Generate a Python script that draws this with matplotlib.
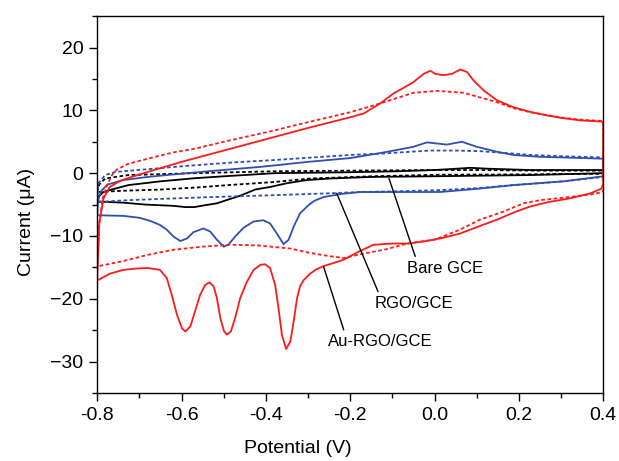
import matplotlib
matplotlib.use("Agg")
import matplotlib.pyplot as plt
from matplotlib.ticker import MultipleLocator, FormatStrFormatter

# Au-RGO/GCE, solid (forward scan then reverse scan)
au_x = [-0.80, -0.795, -0.785, -0.77, -0.745, -0.714, -0.66, -0.60, -0.50, -0.40, -0.30, -0.20, -0.168,
        -0.129, -0.097, -0.073, -0.05, -0.026, -0.010, 0.002, 0.021, 0.041, 0.061, 0.077, 0.092, 0.116,
        0.148, 0.187, 0.23, 0.266, 0.30, 0.345, 0.40,
        0.40, 0.395, 0.37, 0.322, 0.27, 0.227, 0.19, 0.148, 0.10, 0.061, 0.02, -0.02, -0.058, -0.10,
        -0.145, -0.18, -0.216, -0.263, -0.28, -0.295, -0.31, -0.319, -0.326, -0.334, -0.342, -0.352,
        -0.362, -0.370, -0.378, -0.390, -0.402, -0.413, -0.429, -0.445, -0.461, -0.473, -0.483, -0.492,
        -0.499, -0.508, -0.516, -0.524, -0.534, -0.544, -0.556, -0.568, -0.579, -0.591, -0.599, -0.611,
        -0.623, -0.635, -0.651, -0.68, -0.71, -0.738, -0.77, -0.797, -0.80]
au_y = [-17.0, -8.0, -4.0, -2.2, -1.2, -0.5, 0.6, 1.8, 3.6, 5.4, 7.2, 8.9, 9.5,
        11.1, 12.7, 13.6, 14.5, 15.8, 16.3, 15.8, 15.6, 15.8, 16.5, 16.1, 14.8, 13.2,
        11.6, 10.5, 9.7, 9.2, 8.8, 8.4, 8.2,
        -1.8, -2.5, -3.2, -4.0, -4.6, -5.3, -6.2, -7.4, -8.6, -9.6, -10.3, -10.8, -11.2, -11.2,
        -11.4, -12.5, -13.8, -14.8, -15.3, -16.0, -17.0, -18.0, -19.9, -23.6, -26.8, -28.0,
        -25.7, -21.5, -17.8, -15.1, -14.5, -14.6, -15.4, -17.3, -19.9, -23.1, -25.2, -25.7,
        -25.2, -23.1, -19.9, -18.0, -17.4, -17.8, -19.4, -22.0, -24.4, -25.2, -24.7, -22.5,
        -19.4, -16.7, -15.4, -15.1, -15.2, -15.4, -16.0, -17.0, -17.0]

# Au-RGO/GCE, dotted
au_dot_x = [-0.80, -0.795, -0.787, -0.777, -0.765, -0.753, -0.726, -0.68, -0.62, -0.568, -0.50, -0.44,
            -0.38, -0.32, -0.263, -0.20, -0.129, -0.05, 0.006, 0.069, 0.148, 0.19, 0.227,
            0.27, 0.306, 0.35, 0.40,
            0.40, 0.37, 0.306, 0.25, 0.211, 0.16, 0.108, 0.06, 0.0, -0.058, -0.12, -0.168, -0.216, -0.25,
            -0.295, -0.342, -0.42, -0.485, -0.55, -0.619, -0.68, -0.738, -0.797]
au_dot_y = [-14.8, -8.0, -4.0, -2.0, -0.3, 0.6, 1.5, 2.3, 3.3, 3.9, 5.0, 5.9,
            6.8, 7.8, 8.7, 9.7, 11.1, 12.8, 13.1, 12.8, 11.3, 10.3, 9.7,
            9.2, 8.8, 8.5, 8.3,
            -3.0, -3.4, -3.9, -4.3, -4.8, -6.2, -7.4, -9.0, -10.6, -11.1, -12.2, -12.8, -13.5, -13.2,
            -12.7, -12.0, -11.5, -11.4, -11.7, -12.2, -13.0, -14.0, -14.8]

# RGO/GCE, solid
rgo_x = [-0.80, -0.798, -0.79, -0.775, -0.738, -0.68, -0.619, -0.52, -0.413, -0.30, -0.20, -0.129,
         -0.081, -0.05, -0.018, 0.029, 0.065, 0.100, 0.148, 0.187, 0.25, 0.306, 0.40,
         0.40, 0.306, 0.187, 0.10, 0.013, -0.10, -0.176, -0.22, -0.263, -0.285, -0.299, -0.319, -0.334,
         -0.346, -0.358, -0.374, -0.390, -0.406, -0.429, -0.453, -0.473, -0.489, -0.50, -0.516,
         -0.532, -0.548, -0.572, -0.587, -0.603, -0.619, -0.635, -0.651, -0.674, -0.70,
         -0.738, -0.80]
rgo_y = [-6.7, -4.3, -2.8, -1.8, -1.1, -0.6, -0.2, 0.4, 1.0, 1.8, 2.4, 3.2,
         3.8, 4.2, 4.9, 4.55, 5.0, 4.2, 3.4, 2.9, 2.6, 2.5, 2.3,
         -0.5, -1.3, -1.9, -2.5, -3.0, -3.0, -3.0, -3.3, -3.8, -4.4, -5.1, -6.4, -8.5,
         -10.6, -11.3, -9.6, -8.0, -7.5, -7.7, -8.7, -10.1, -11.4, -11.7, -10.6,
         -9.3, -8.8, -9.4, -10.4, -10.8, -10.1, -9.0, -8.25, -7.6, -7.1,
         -6.8, -6.7]

# RGO/GCE, dotted
rgo_dot_x = [-0.80, -0.797, -0.781, -0.757, -0.686, -0.58, -0.48, -0.378, -0.20, -0.129, -0.06, -0.01,
             0.05, 0.108, 0.17, 0.227, 0.30, 0.40,
             0.40, 0.306, 0.187, 0.10, 0.013, -0.10, -0.176, -0.247, -0.378, -0.48, -0.568, -0.65,
             -0.726, -0.777, -0.80]
rgo_dot_y = [-4.6, -1.6, -0.3, 0.2, 0.6, 1.2, 1.7, 2.1, 2.9, 3.1, 3.4, 3.6,
             3.6, 3.5, 3.2, 2.9, 2.7, 2.5,
             -0.6, -1.3, -1.9, -2.4, -2.7, -2.9, -3.0, -3.2, -3.5, -3.7, -3.9, -4.1,
             -4.3, -4.5, -4.6]

# Bare GCE, solid
bare_x = [-0.80, -0.795, -0.785, -0.765, -0.726, -0.65, -0.568, -0.50, -0.378, -0.20, -0.089, 0.0,
          0.05, 0.085, 0.13, 0.227, 0.40,
          0.40, 0.227, -0.01, -0.15, -0.247, -0.303, -0.35, -0.39, -0.425, -0.461, -0.489, -0.516,
          -0.544, -0.57, -0.591, -0.62, -0.686, -0.738, -0.80]
bare_y = [-4.5, -3.6, -3.0, -2.6, -1.9, -1.3, -0.8, -0.5, 0.0, 0.15, 0.3, 0.5,
          0.7, 0.85, 0.7, 0.5, 0.5,
          0.0, -0.3, -0.5, -0.6, -0.85, -1.1, -1.6, -2.2, -2.6, -3.6, -4.2, -4.8,
          -5.1, -5.4, -5.4, -5.2, -5.0, -4.7, -4.5]

# Bare GCE, dotted
bare_dot_x = [-0.80, -0.795, -0.781, -0.726, -0.568, -0.378, -0.20, 0.0, 0.1, 0.25, 0.40,
              0.40, 0.2, 0.013, -0.15, -0.295, -0.378, -0.489, -0.568, -0.647, -0.738, -0.80]
bare_dot_y = [-3.0, -1.8, -0.85, -0.3, 0.0, 0.3, 0.4, 0.5, 0.5, 0.4, 0.4,
              -0.1, -0.2, -0.25, -0.5, -0.85, -1.4, -1.9, -2.3, -2.6, -2.8, -3.0]

plt.rcParams['font.family'] = ['Liberation Sans', 'DejaVu Sans']

fig = plt.figure(figsize=(6.19, 4.61), dpi=100)
ax = fig.add_axes([0.157, 0.1475, 0.8175, 0.8175])

red = '#ff1a1a'
blue = '#2f4fb0'
dots = (0, (2.0, 1.4))
lw = 1.3

ax.plot(bare_dot_x, bare_dot_y, color='black', lw=lw, linestyle=dots)
ax.plot(bare_x, bare_y, color='black', lw=lw)
ax.plot(rgo_dot_x, rgo_dot_y, color=blue, lw=lw, linestyle=dots)
ax.plot(rgo_x, rgo_y, color=blue, lw=lw)
ax.plot(au_dot_x, au_dot_y, color=red, lw=lw, linestyle=dots)
ax.plot(au_x, au_y, color=red, lw=lw)

# leader lines and labels
line_style = dict(arrowstyle='-', color='black', lw=1.0, shrinkA=1, shrinkB=0)
ax.annotate('Bare GCE', xy=(-0.108, -0.84), xytext=(-0.066, -15.1), ha='left', va='center',
            fontsize=12, arrowprops=dict(relpos=(0.13, 1.0), **line_style))
ax.annotate('RGO/GCE', xy=(-0.232, -3.2), xytext=(-0.143, -20.7), ha='left', va='center',
            fontsize=12, arrowprops=dict(relpos=(0.07, 1.0), **line_style))
ax.annotate('Au-RGO/GCE', xy=(-0.263, -14.9), xytext=(-0.252, -26.8), ha='left', va='center',
            fontsize=12, arrowprops=dict(relpos=(0.16, 1.0), **line_style))

ax.set_xlim(-0.8, 0.4)
ax.set_ylim(-35, 25)
ax.xaxis.set_major_locator(MultipleLocator(0.2))
ax.xaxis.set_minor_locator(MultipleLocator(0.1))
ax.yaxis.set_major_locator(MultipleLocator(10))
ax.yaxis.set_minor_locator(MultipleLocator(5))
ax.xaxis.set_major_formatter(FormatStrFormatter('%.1f'))
ax.tick_params(which='major', direction='out', length=6, width=1.0, labelsize=14, pad=4)
ax.tick_params(which='minor', direction='out', length=3.5, width=1.0)
ax.tick_params(top=False, right=False)
for s in ax.spines.values():
    s.set_linewidth(1.0)

ax.set_xlabel('Potential (V)', fontsize=14)
ax.set_ylabel('Current (μA)', fontsize=14)
ax.xaxis.set_label_coords(0.397, -0.125)
ax.yaxis.set_label_coords(-0.122, 0.455)

fig.savefig('out.png', dpi=100)
